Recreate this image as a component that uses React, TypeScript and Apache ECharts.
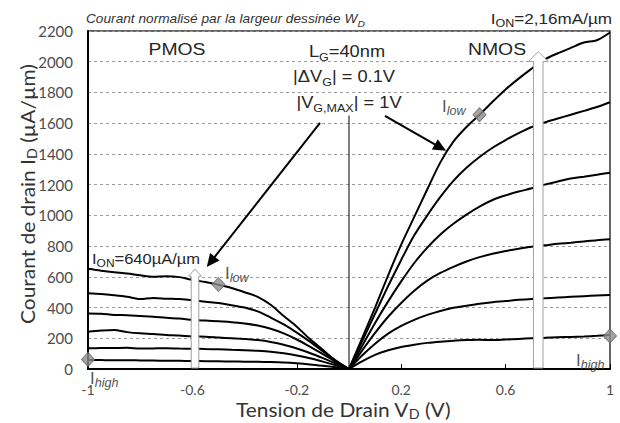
import React, { useEffect, useRef } from "react";
import * as echarts from "echarts";

// ---------- data ----------
const vdPmos = [-1, -0.95, -0.9, -0.85, -0.8, -0.75, -0.7, -0.65, -0.6, -0.55, -0.5, -0.45, -0.4, -0.35, -0.3, -0.25, -0.2, -0.15, -0.1, -0.05, 0];
const pmosVg10 = [652, 640, 630, 622, 610, 601, 604, 598, 580, 566, 548, 527, 500, 470, 418, 345, 275, 195, 125, 52, 0];
const pmosVg09 = [493, 488, 480, 470, 455, 462, 458, 455, 448, 438, 430, 415, 400, 375, 335, 290, 237, 178, 115, 55, 0];
const pmosVg08 = [362, 360, 352, 350, 345, 340, 333, 328, 320, 315, 310, 305, 296, 283, 262, 232, 192, 145, 97, 47, 0];
const pmosVg07 = [243, 250, 254, 240, 232, 228, 222, 218, 212, 210, 205, 200, 195, 188, 176, 158, 133, 104, 71, 36, 0];
const pmosVg06 = [135, 136, 137, 138, 133, 134, 135, 133, 132, 130, 128, 125, 122, 118, 112, 102, 88, 70, 48, 24, 0];
const pmosVg05 = [59, 58, 57, 57, 56, 55, 54, 53, 52, 51, 50, 49, 48, 47, 45, 42, 37, 30, 21, 11, 0];

const vdNmos = [0, 0.05, 0.1, 0.15, 0.2, 0.25, 0.3, 0.35, 0.4, 0.45, 0.5, 0.55, 0.6, 0.65, 0.7, 0.75, 0.8, 0.85, 0.9, 0.95, 1];
const nmosVg10 = [0, 200, 400, 610, 810, 990, 1170, 1345, 1480, 1575, 1655, 1740, 1820, 1890, 1955, 2015, 2055, 2090, 2125, 2140, 2190];
const nmosVg09 = [0, 180, 360, 540, 710, 870, 1000, 1120, 1225, 1310, 1380, 1440, 1490, 1535, 1575, 1605, 1630, 1655, 1680, 1705, 1736];
const nmosVg08 = [0, 150, 300, 440, 570, 690, 790, 875, 945, 1005, 1057, 1100, 1130, 1155, 1176, 1200, 1220, 1240, 1252, 1265, 1278];
const nmosVg07 = [0, 120, 235, 340, 430, 510, 575, 625, 665, 700, 728, 750, 768, 783, 796, 805, 815, 822, 830, 838, 844];
const nmosVg06 = [0, 88, 165, 230, 280, 320, 352, 378, 398, 412, 425, 435, 442, 450, 456, 460, 465, 470, 474, 478, 482];
const nmosVg05 = [0, 50, 92, 122, 143, 158, 170, 178, 184, 188, 190, 188, 192, 196, 200, 203, 206, 209, 212, 216, 221];

const iLowPoints = [[-0.5, 550], [0.5, 1655]];
const iHighPoints = [[-1, 62], [1, 215]];
// hollow ION arrows: [Vd, tip current]
const ionArrows = [[-0.59, 650], [0.725, 2066]];
// pointer arrows: [fromVd, fromId, toVd, toId]
const pointerArrows = [[-0.111, 1602, -0.545, 664], [0.138, 1647, 0.372, 1420]];
const centerLine = [[0, 0], [0, 1650]];

const xMin = -1, xMax = 1, xStep = 0.4;
const yMin = 0, yMax = 2200, yStep = 200;

const ANNOT = "'Liberation Sans', Arial, sans-serif";
const AXF = "Lato, 'Open Sans', sans-serif";

function subText(parts: Array<[string, boolean]>) {
  return parts.map(([t, s]) => `{${s ? "s" : "a"}|${t}}`).join("");
}

function richStyle(size: number, subSize: number, color: string, font: string, subItalic: boolean, mainItalic: boolean, lh: number, slh: number) {
  return {
    a: { fontSize: size, fontFamily: font, fill: color, lineHeight: size + lh, fontStyle: mainItalic ? "italic" : "normal" },
    s: { fontSize: subSize, fontFamily: font, fill: color, lineHeight: subSize + slh, verticalAlign: "bottom", fontStyle: subItalic ? "italic" : "normal" },
  };
}

function textEl(x: number, y: number, parts: Array<[string, boolean]>, opts: any) {
  const { size, sub, color = "#262626", font = ANNOT, align = "center", scaleX = 1, rotation = 0, subItalic = false, mainItalic = false, lh = 6, slh = -1 } = opts;
  return {
    type: "text",
    x,
    y,
    rotation,
    scaleX,
    z: 100,
    style: {
      text: subText(parts),
      align,
      textAlign: align,
      verticalAlign: "middle",
      textVerticalAlign: "middle",
      rich: richStyle(size, sub, color, font, subItalic, mainItalic, lh, slh),
    },
  };
}

export default function App() {
  const ref = useRef<HTMLDivElement>(null);
  useEffect(() => {
    document.body.style.margin = "0";
    if (!ref.current) return;
    const chart = echarts.init(ref.current, undefined, { renderer: "svg" });

    const mkLine = (xs: number[], ys: number[]) => ({
      type: "line",
      data: xs.map((x, i) => [x, ys[i]]),
      showSymbol: false,
      smooth: 0.3,
      lineStyle: { color: "#000", width: 2 },
      z: 3,
      silent: true,
    });

    const S = 1.14;
    const option: any = {
      animation: false,
      grid: { left: 88, right: 10, top: 31, bottom: 54, show: true, borderColor: "#333", borderWidth: 1.5, backgroundColor: "transparent" },
      xAxis: {
        type: "value",
        min: xMin,
        max: xMax,
        interval: xStep,
        axisLine: { onZero: false, lineStyle: { color: "#000", width: 2 } },
        axisTick: { show: true, inside: true, length: 5, lineStyle: { color: "#000", width: 1 } },
        splitLine: { show: false },
        axisLabel: {
          margin: 13,
          fontFamily: AXF,
          fontSize: 14,
          color: "#4d4d4d",
          formatter: (v: number) => String(Math.round(v * 10) / 10),
        },
      },
      yAxis: {
        type: "value",
        min: yMin,
        max: yMax,
        interval: yStep,
        axisLine: { show: true, onZero: false, lineStyle: { color: "#000", width: 2 } },
        axisTick: { show: false },
        splitLine: { show: true, lineStyle: { color: "#9a9a9a", type: [3, 3], width: 1 } },
        axisLabel: { margin: 15, fontFamily: AXF, fontSize: 15, color: "#4d4d4d", formatter: (v: number) => String(v) },
      },
      series: [
        mkLine(vdPmos, pmosVg10),
        mkLine(vdPmos, pmosVg09),
        mkLine(vdPmos, pmosVg08),
        mkLine(vdPmos, pmosVg07),
        mkLine(vdPmos, pmosVg06),
        mkLine(vdPmos, pmosVg05),
        mkLine(vdNmos, nmosVg10),
        mkLine(vdNmos, nmosVg09),
        mkLine(vdNmos, nmosVg08),
        mkLine(vdNmos, nmosVg07),
        mkLine(vdNmos, nmosVg06),
        mkLine(vdNmos, nmosVg05),
        {
          type: "line",
          data: centerLine,
          showSymbol: false,
          lineStyle: { color: "#000", width: 1 },
          z: 2,
          silent: true,
        },
        {
          type: "custom",
          data: ionArrows,
          z: 5,
          silent: true,
          clip: false,
          renderItem: (params: any, api: any) => {
            const x = api.value(0);
            const top = api.value(1);
            const tip = api.coord([x, top]);
            const base = api.coord([x, 0]);
            const big = params.dataIndex === 1;
            const sw = big ? 4.8 : 3.8;
            const hw = big ? 10 : 6.5;
            const hh = big ? 10 : 7;
            const tx = tip[0], ty = tip[1];
            return {
              type: "polygon",
              shape: {
                points: [
                  [tx, ty],
                  [tx + hw, ty + hh],
                  [tx + sw, ty + hh],
                  [tx + sw, base[1] - 1],
                  [tx - sw, base[1] - 1],
                  [tx - sw, ty + hh],
                  [tx - hw, ty + hh],
                ],
              },
              style: { fill: "#fff", stroke: "#a0a0a0", lineWidth: 1 },
            };
          },
        },
        {
          type: "custom",
          data: pointerArrows,
          encode: { x: [0, 2], y: [1, 3] },
          z: 6,
          silent: true,
          clip: false,
          renderItem: (params: any, api: any) => {
            const p1 = api.coord([api.value(0), api.value(1)]);
            const p2 = api.coord([api.value(2), api.value(3)]);
            const dx = p2[0] - p1[0], dy = p2[1] - p1[1];
            const len = Math.sqrt(dx * dx + dy * dy);
            const ux = dx / len, uy = dy / len;
            const hl = 13, hw = 6;
            const bx = p2[0] - ux * hl, by = p2[1] - uy * hl;
            return {
              type: "group",
              children: [
                {
                  type: "line",
                  shape: { x1: p1[0], y1: p1[1], x2: bx + ux * 2, y2: by + uy * 2 },
                  style: { stroke: "#000", lineWidth: 2 },
                },
                {
                  type: "polygon",
                  shape: {
                    points: [
                      [p2[0], p2[1]],
                      [bx - uy * hw, by + ux * hw],
                      [bx + uy * hw, by - ux * hw],
                    ],
                  },
                  style: { fill: "#000" },
                },
              ],
            };
          },
        },
        {
          type: "scatter",
          data: [...iLowPoints, ...iHighPoints],
          symbol: "diamond",
          symbolSize: [13, 14],
          clip: false,
          z: 7,
          silent: true,
          itemStyle: { color: "#8e8e8e", borderColor: "#6a6a6a", borderWidth: 1 },
        },
      ],
      graphic: [
        textEl(86, 19, [["Courant normalisé par la largeur dessinée W", false], ["D", true]], { size: 12, sub: 9, color: "#333", align: "left", scaleX: S, mainItalic: true, subItalic: true }),
        textEl(612, 18, [["I", false], ["ON", true], ["=2,16mA/µm", false]], { size: 15, sub: 11, align: "right", scaleX: S }),
        textEl(177, 49, [["PMOS", false]], { size: 17, sub: 12, scaleX: S }),
        textEl(497, 49, [["NMOS", false]], { size: 17, sub: 12, scaleX: S }),
        textEl(347, 51, [["L", false], ["G", true], ["=40nm", false]], { size: 16, sub: 11, scaleX: S }),
        textEl(344, 76, [["|ΔV", false], ["G", true], ["| = 0.1V", false]], { size: 16, sub: 11, scaleX: S }),
        textEl(349, 102, [["|V", false], ["G,MAX", true], ["| = 1V", false]], { size: 16, sub: 11, scaleX: S }),
        textEl(92, 259, [["I", false], ["ON", true], ["=640µA/µm", false]], { size: 14.5, sub: 10.5, align: "left", scaleX: S }),
        textEl(225, 273, [["I", false], ["low", true]], { size: 16, sub: 12, color: "#555", align: "left", scaleX: 1.05, subItalic: true }),
        textEl(442, 106, [["I", false], ["low", true]], { size: 16, sub: 12, color: "#555", align: "left", scaleX: 1.05, subItalic: true }),
        textEl(90, 378, [["I", false], ["high", true]], { size: 16, sub: 12, color: "#555", align: "left", scaleX: 1.05, subItalic: true }),
        textEl(576, 360, [["I", false], ["high", true]], { size: 16, sub: 12, color: "#555", align: "left", scaleX: 1.05, subItalic: true }),
        textEl(343, 409, [["Tension de Drain V", false], ["D", true], [" (V)", false]], { size: 19, sub: 13, color: "#333", font: AXF, scaleX: 1.1, lh: 5, slh: -5 }),
        textEl(27, 194, [["Courant de drain I", false], ["D", true], [" (µA/µm)", false]], { size: 19, sub: 13, color: "#333", font: AXF, rotation: Math.PI / 2, scaleX: 1.1, lh: 5, slh: -5 }),
      ],
    };
    chart.setOption(option);
    return () => chart.dispose();
  }, []);
  return <div ref={ref} style={{ width: 620, height: 423 }} />;
}
